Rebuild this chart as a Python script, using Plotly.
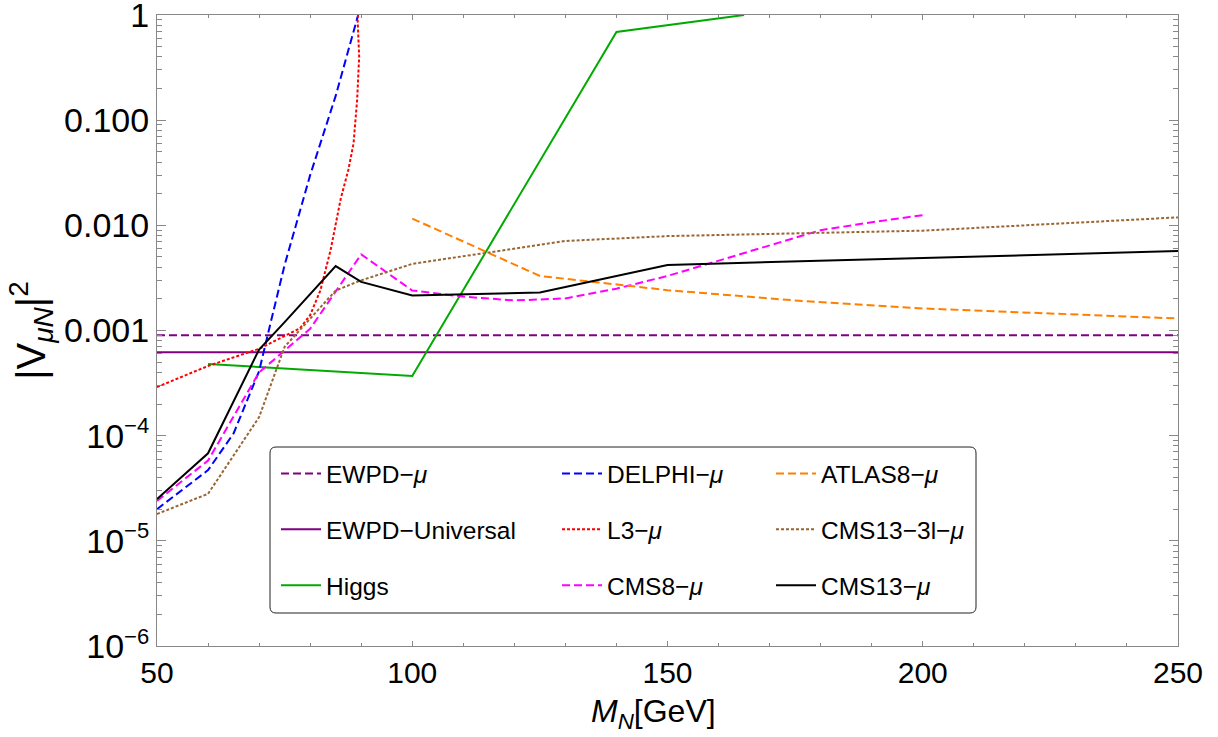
import plotly.graph_objects as go

# ---------------- data ----------------
ewpd_mu_x = [50, 250]
ewpd_mu_y = [9.0e-4, 9.0e-4]

ewpd_univ_x = [50, 250]
ewpd_univ_y = [6.2e-4, 6.2e-4]

higgs_x = [60, 100, 140, 165]
higgs_y = [4.8e-4, 3.7e-4, 0.69, 1.0]

delphi_x = [50, 60, 65, 70, 72, 75, 80, 85, 89.4]
delphi_y = [2.0e-5, 4.7e-5, 1.05e-4, 4.1e-4, 1.05e-3, 4.2e-3, 3.0e-2, 0.17, 1.0]

l3_x = [50, 60, 70, 78, 80, 82, 84, 86, 87.5, 88.5, 89.2, 89.6, 89.3, 89.4]
l3_y = [2.9e-4, 4.6e-4, 6.7e-4, 1.05e-3, 1.4e-3, 2.4e-3, 5.8e-3, 1.8e-2, 3.4e-2, 6.0e-2, 0.155, 0.4, 0.9, 1.0]

cms8_x = [50, 60, 70, 80, 90, 100, 110, 120, 130, 140, 150, 160, 170, 180, 190, 200]
cms8_y = [2.4e-5, 5.8e-5, 4.0e-4, 1.04e-3, 5.3e-3, 2.4e-3, 2.1e-3, 1.93e-3, 2.02e-3,
          2.5e-3, 3.3e-3, 4.6e-3, 6.4e-3, 9.0e-3, 1.07e-2, 1.25e-2]

atlas8_x = [100, 125, 150, 175, 200, 225, 250]
atlas8_y = [1.16e-2, 3.3e-3, 2.42e-3, 1.93e-3, 1.62e-3, 1.45e-3, 1.30e-3]

cms13_3l_x = [50, 60, 70, 75, 85, 90, 100, 130, 150, 200, 250]
cms13_3l_y = [1.8e-5, 2.8e-5, 1.5e-4, 7.0e-4, 2.4e-3, 3.0e-3, 4.3e-3, 7.1e-3, 7.9e-3, 8.9e-3, 1.19e-2]

cms13_x = [50, 60, 70, 75, 85, 90, 100, 125, 150, 250]
cms13_y = [2.5e-5, 6.8e-5, 6.6e-4, 1.2e-3, 4.1e-3, 2.9e-3, 2.15e-3, 2.3e-3, 4.2e-3, 5.7e-3]

x_ticks = [50, 100, 150, 200, 250]
y_ticks = [1e-6, 1e-5, 1e-4, 1e-3, 1e-2, 1e-1, 1]
SUP = "<sup><span style='font-size:22px'>{}</span></sup>"
y_ticktext = ["10" + SUP.format("−6"), "10" + SUP.format("−5"), "10" + SUP.format("−4"),
              "0.001", "0.010", "0.100", "1"]

# ---------------- styles ----------------
PURPLE = "#800080"
FONT = "Liberation Sans, Arial, sans-serif"

series = [
    # name, x, y, color, dash, legend
    ("EWPD−<i>μ</i>", ewpd_mu_x, ewpd_mu_y, PURPLE, "8px,4px", "legend"),
    ("EWPD−Universal", ewpd_univ_x, ewpd_univ_y, PURPLE, "solid", "legend"),
    ("Higgs", higgs_x, higgs_y, "#00AA00", "solid", "legend"),
    ("DELPHI−<i>μ</i>", delphi_x, delphi_y, "#0000FF", "8px,4px", "legend2"),
    ("L3−<i>μ</i>", l3_x, l3_y, "#FF0000", "3px,2px", "legend2"),
    ("CMS8−<i>μ</i>", cms8_x, cms8_y, "#FF00FF", "8px,4px", "legend2"),
    ("ATLAS8−<i>μ</i>", atlas8_x, atlas8_y, "#FF8000", "8px,4px", "legend3"),
    ("CMS13−3l−<i>μ</i>", cms13_3l_x, cms13_3l_y, "#996633", "3px,2px", "legend3"),
    ("CMS13−<i>μ</i>", cms13_x, cms13_y, "#000000", "solid", "legend3"),
]

fig = go.Figure()
for i, (name, xs, ys, col, dash, leg) in enumerate(series):
    fig.add_trace(go.Scatter(
        x=xs, y=ys, mode="lines", name=name,
        line=dict(color=col, width=2, dash=dash),
        legend=leg, legendgroup=f"g{i}",
    ))

W, H = 1218, 737
L, R, T, B = 157, 40, 15, 91
pw = W - L - R
ph = H - T - B


def px2x(p):
    return (p - L) / pw


def py2y(p):
    return (H - B - p) / ph


legend_common = dict(
    orientation="v", xanchor="left", yanchor="top",
    bgcolor="rgba(0,0,0,0)", borderwidth=0,
    font=dict(family=FONT, size=24.5, color="black"),
    tracegroupgap=21, itemwidth=40,
)

fig.update_layout(
    width=W, height=H,
    margin=dict(l=L, r=R, t=T, b=B, autoexpand=False),
    paper_bgcolor="white", plot_bgcolor="white",
    font=dict(family=FONT, color="black"),
    legend=dict(x=px2x(276), y=py2y(451), **legend_common),
    legend2=dict(x=px2x(557), y=py2y(451), **legend_common),
    legend3=dict(x=px2x(771), y=py2y(451), **legend_common),
    xaxis=dict(
        range=[50, 250], tickvals=x_ticks, automargin=False,
        ticks="inside", ticklen=5, tickcolor="#888", tickwidth=1,
        minor=dict(ticks="inside", ticklen=3, dtick=10, tickcolor="#888"),
        showline=True, linecolor="#888", linewidth=1, mirror="allticks",
        showgrid=False, zeroline=False,
        tickfont=dict(size=30, family=FONT, color="black"),
    ),
    yaxis=dict(
        type="log", range=[-6, 0], tickvals=y_ticks, ticktext=y_ticktext,
        automargin=False,
        ticks="inside", ticklen=9, tickcolor="#888", tickwidth=1,
        minor=dict(ticks="inside", ticklen=5, tickcolor="#888",
                   tickvals=[k * 10 ** e for e in range(-6, 0) for k in range(2, 10)]),
        showline=True, linecolor="#888", linewidth=1, mirror="allticks",
        showgrid=False, zeroline=False, ticklabeloverflow="allow",
        tickfont=dict(size=34, family=FONT, color="black"),
        title=dict(text="|V<sub><i>μN</i></sub>|<sup>2</sup>",
                   font=dict(size=40, family=FONT, color="black"), standoff=6),
    ),
)

# x-axis title (slightly left of centre, as in the original)
fig.add_annotation(
    text="<i>M</i><sub><i>N</i></sub>[GeV]", xref="paper", yref="paper",
    x=px2x(653), y=py2y(713), xanchor="center", yanchor="middle",
    showarrow=False, font=dict(size=32, family=FONT, color="black"),
)

# rounded legend frame
x0, x1 = px2x(270), px2x(976)
y0, y1 = py2y(613), py2y(447)
rx, ry = 6 / pw, 6 / ph
path = (f"M {x0+rx},{y0} L {x1-rx},{y0} Q {x1},{y0} {x1},{y0+ry} "
        f"L {x1},{y1-ry} Q {x1},{y1} {x1-rx},{y1} "
        f"L {x0+rx},{y1} Q {x0},{y1} {x0},{y1-ry} "
        f"L {x0},{y0+ry} Q {x0},{y0} {x0+rx},{y0} Z")
fig.add_shape(type="path", path=path, xref="paper", yref="paper",
              line=dict(color="#222", width=1), fillcolor="rgba(0,0,0,0)")

fig.write_html("out.html", config={"displayModeBar": False},
               post_script="document.body.style.margin='0px';")
